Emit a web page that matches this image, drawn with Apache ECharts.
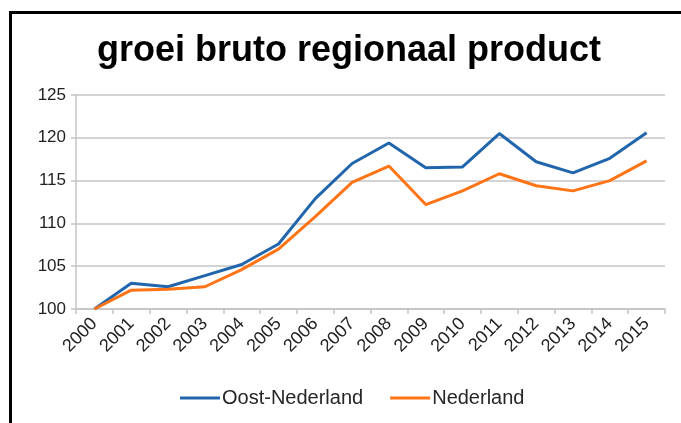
<!DOCTYPE html>
<html>
<head>
<meta charset="utf-8">
<script src="https://cdn.jsdelivr.net/npm/echarts@6/dist/echarts.min.js"></script>
<style>
  html, body { margin: 0; padding: 0; background: #fff; }
  #chart { width: 681px; height: 423px; }
</style>
</head>
<body>
<div id="chart"></div>
<script>
// Years on the category axis
const years = ['2000','2001','2002','2003','2004','2005','2006','2007',
               '2008','2009','2010','2011','2012','2013','2014','2015'];

// Index of regional gross product (2000 = 100)
const oostNederland = [100, 103.0, 102.6, 103.9, 105.2, 107.6, 112.9, 117.0,
                       119.4, 116.5, 116.6, 120.5, 117.2, 115.9, 117.6, 120.6];
const nederland     = [100, 102.2, 102.3, 102.6, 104.6, 107.0, 110.8, 114.8,
                       116.7, 112.2, 113.8, 115.8, 114.4, 113.8, 115.0, 117.3];

// Value axis ticks
const yMin = 100, yMax = 125, yStep = 5;

const font = '"Liberation Sans", Arial, sans-serif';
const gridGray = '#c4c4c4';

const chart = echarts.init(document.getElementById('chart'), null, { renderer: 'canvas' });

chart.setOption({
  animation: false,
  backgroundColor: '#fff',
  textStyle: { fontFamily: font },
  title: {
    text: 'groei bruto regionaal product',
    left: 97,
    top: 33,
    padding: 0,
    textStyle: { fontFamily: font, fontSize: 36, fontWeight: 'bold', color: '#000' }
  },
  legend: {
    left: 180,
    top: 388,
    padding: 0,
    itemGap: 27,
    itemWidth: 40,
    itemHeight: 3,
    icon: 'rect',
    textStyle: { fontFamily: font, fontSize: 20, color: '#262626', padding: [0, 0, 0, -3] },
    data: ['Oost-Nederland', 'Nederland']
  },
  grid: { left: 76, right: 16, top: 95, bottom: 114, containLabel: false },
  xAxis: {
    type: 'category',
    data: years,
    boundaryGap: true,
    axisLine: { lineStyle: { color: gridGray, width: 1.5 } },
    axisTick: { show: true, length: 5, lineStyle: { color: gridGray, width: 1.5 } },
    axisLabel: { rotate: 45, margin: 12, fontFamily: font, fontSize: 18, color: '#222', interval: 0 }
  },
  yAxis: {
    type: 'value',
    min: yMin, max: yMax, interval: yStep,
    axisLine: { show: true, lineStyle: { color: gridGray, width: 1.5 } },
    axisTick: { show: true, length: 5, lineStyle: { color: gridGray, width: 1.5 } },
    axisLabel: { margin: 10, fontFamily: font, fontSize: 17, color: '#222' },
    splitLine: { show: true, lineStyle: { color: gridGray, width: 1.5 } }
  },
  series: [
    {
      name: 'Oost-Nederland',
      type: 'line',
      data: oostNederland,
      showSymbol: false,
      symbol: 'none',
      itemStyle: { color: '#2166ad' },
      lineStyle: { color: '#2166ad', width: 3 }
    },
    {
      name: 'Nederland',
      type: 'line',
      data: nederland,
      showSymbol: false,
      symbol: 'none',
      itemStyle: { color: '#ff7417' },
      lineStyle: { color: '#ff7417', width: 3 }
    }
  ],
  graphic: [
    {
      type: 'polyline',
      shape: { points: [[10.5, 423], [10.5, 12.5], [681, 12.5]] },
      style: { stroke: '#000', lineWidth: 3, fill: null }
    }
  ]
});
</script>
</body>
</html>
